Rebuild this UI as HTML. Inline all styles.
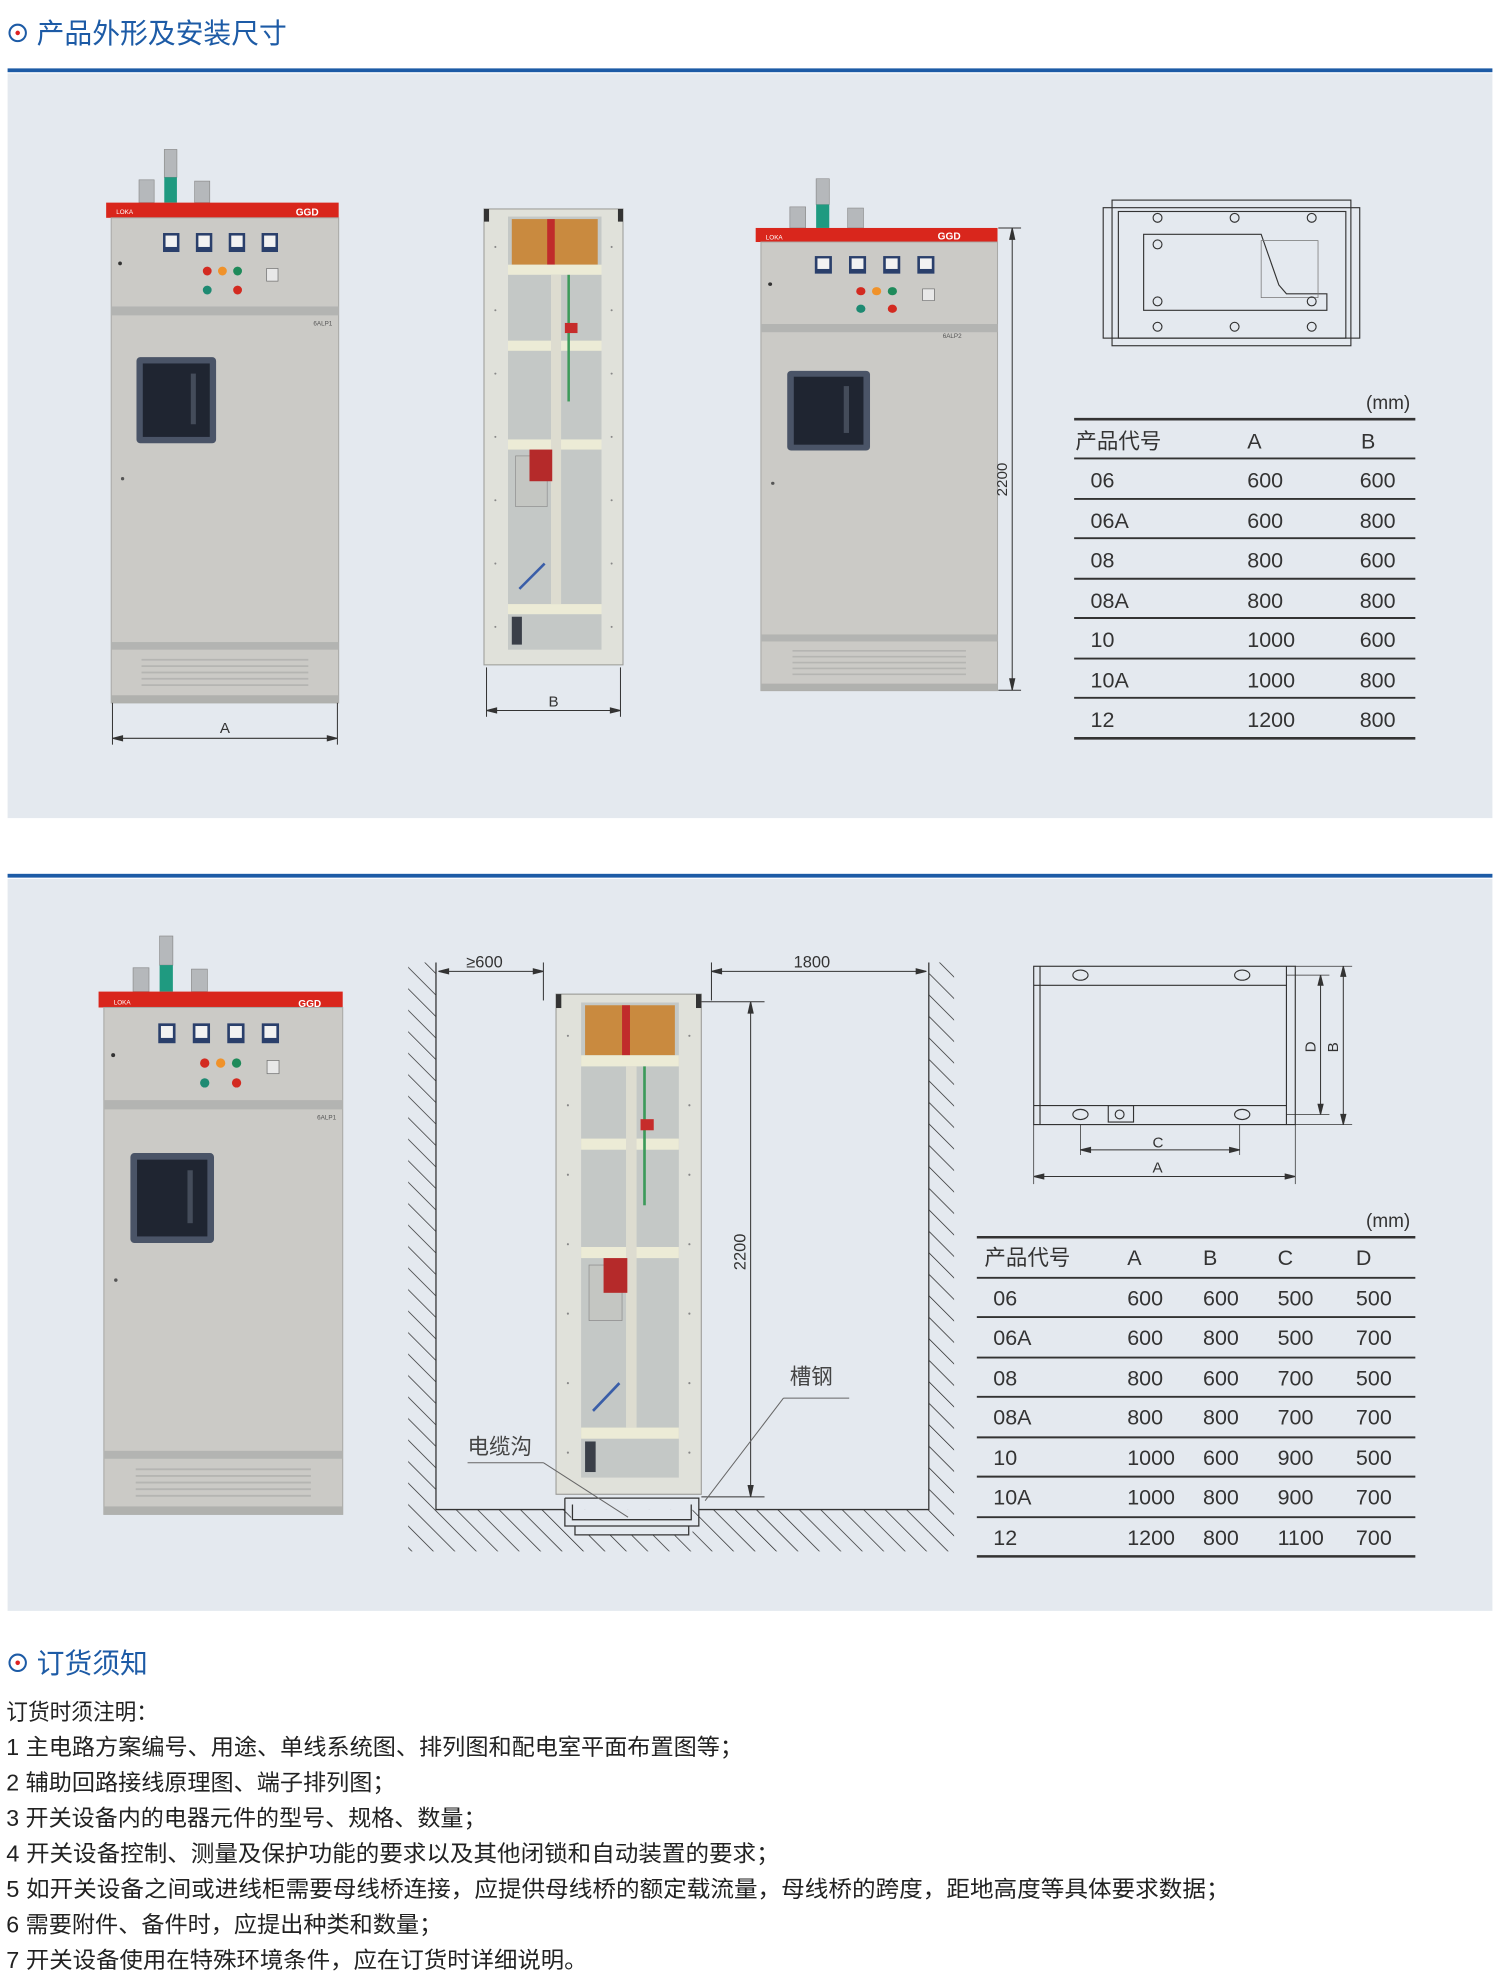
<!DOCTYPE html>
<html><head><meta charset="utf-8"><style>
html,body{margin:0;padding:0;background:#fff;}
svg{display:block;}
text{font-family:"Liberation Sans","Noto Sans CJK SC",sans-serif;}
</style></head><body>
<svg width="1500" height="1987" viewBox="0 0 1187 1569" preserveAspectRatio="none" xmlns="http://www.w3.org/2000/svg">
<defs>
<pattern id="hatch" width="12" height="12" patternUnits="userSpaceOnUse" patternTransform="rotate(-45)">
<line x1="0" y1="0" x2="0" y2="12" stroke="#222" stroke-width="1.1"/>
</pattern>
<g id="cab">
 <rect x="26" y="-18" width="12" height="18" fill="#b5b8bb" stroke="#888" stroke-width="0.5"/>
 <rect x="46" y="-42" width="10" height="22" fill="#b5b8bb" stroke="#888" stroke-width="0.5"/>
 <rect x="46" y="-20" width="10" height="20" fill="#1f9a80"/>
 <rect x="70" y="-17" width="12" height="17" fill="#b5b8bb" stroke="#888" stroke-width="0.5"/>
 <rect x="0" y="0" width="184" height="12" fill="#d9261c"/>
 <rect x="4" y="12" width="180" height="383" fill="#cbcac6" stroke="#a9a9a6" stroke-width="0.8"/>
 <rect x="4" y="82" width="180" height="7" fill="#b3b4b2"/>
 <rect x="45" y="24" width="13" height="15" fill="#2a3f6b"/><rect x="47" y="26" width="9" height="9" fill="#f2f2f2"/>
 <rect x="71" y="24" width="13" height="15" fill="#2a3f6b"/><rect x="73" y="26" width="9" height="9" fill="#f2f2f2"/>
 <rect x="97" y="24" width="13" height="15" fill="#2a3f6b"/><rect x="99" y="26" width="9" height="9" fill="#f2f2f2"/>
 <rect x="123" y="24" width="13" height="15" fill="#2a3f6b"/><rect x="125" y="26" width="9" height="9" fill="#f2f2f2"/>
 <circle cx="80" cy="54" r="3.5" fill="#d32a20"/><circle cx="92" cy="54" r="3.5" fill="#f0922a"/><circle cx="104" cy="54" r="3.5" fill="#1e8a5a"/>
 <circle cx="80" cy="69" r="3.5" fill="#1e8a72"/><circle cx="104" cy="69" r="3.5" fill="#d32a20"/>
 <rect x="127" y="52" width="9" height="10" fill="#e8e8e8" stroke="#777" stroke-width="0.6"/>
 <circle cx="11" cy="48" r="1.5" fill="#333"/><circle cx="13" cy="218" r="1.3" fill="#555"/>
 <rect x="24" y="122" width="63" height="68" rx="3" fill="#4a5467"/>
 <rect x="29" y="127" width="53" height="58" fill="#1f2531"/>
 <rect x="67" y="135" width="4" height="40" fill="#444c5a"/>
 <rect x="4" y="347" width="180" height="6" fill="#b3b4b2"/>
 <g stroke="#b5b5b2" stroke-width="1.4">
 <line x1="28" y1="361" x2="160" y2="361"/><line x1="28" y1="366" x2="160" y2="366"/><line x1="28" y1="371" x2="160" y2="371"/><line x1="28" y1="376" x2="160" y2="376"/><line x1="28" y1="381" x2="160" y2="381"/></g>
 <rect x="4" y="389" width="180" height="6" fill="#b0b1ae"/>
</g>
<g id="frame">
 <rect x="0" y="0" width="110" height="360" fill="#e0e1da" stroke="#9a9a96" stroke-width="0.8"/>
 <rect x="0" y="0" width="4" height="10" fill="#333"/><rect x="106" y="0" width="4" height="10" fill="#333"/>
 <rect x="19" y="6" width="74" height="342" fill="#c4c8c6"/>
 <rect x="22" y="8" width="68" height="36" fill="#c98a3f"/>
 <rect x="50" y="8" width="6" height="36" fill="#c02b2b"/>
 <rect x="19" y="44" width="74" height="8" fill="#ecebd6"/>
 <rect x="19" y="104" width="74" height="8" fill="#ecebd6"/>
 <rect x="19" y="182" width="74" height="8" fill="#ecebd6"/>
 <rect x="19" y="312" width="74" height="8" fill="#ecebd6"/>
 <rect x="53" y="52" width="8" height="260" fill="#dddcd0"/>
 <rect x="66" y="52" width="2" height="100" fill="#3c9a5a"/>
 <rect x="64" y="90" width="10" height="8" fill="#c62c2b"/>
 <rect x="25" y="195" width="25" height="40" fill="#c4c6c2" stroke="#888" stroke-width="0.5"/>
 <rect x="36" y="190" width="18" height="25" fill="#b52a2a"/>
 <line x1="28" y1="300" x2="48" y2="280" stroke="#3a5ea8" stroke-width="2"/>
 <rect x="22" y="322" width="8" height="22" fill="#3a3f48"/>
 <g fill="#888"><circle cx="9" cy="30" r="0.8"/><circle cx="9" cy="80" r="0.8"/><circle cx="9" cy="130" r="0.8"/><circle cx="9" cy="180" r="0.8"/><circle cx="9" cy="230" r="0.8"/><circle cx="9" cy="280" r="0.8"/><circle cx="9" cy="330" r="0.8"/>
 <circle cx="101" cy="30" r="0.8"/><circle cx="101" cy="80" r="0.8"/><circle cx="101" cy="130" r="0.8"/><circle cx="101" cy="180" r="0.8"/><circle cx="101" cy="230" r="0.8"/><circle cx="101" cy="280" r="0.8"/><circle cx="101" cy="330" r="0.8"/></g>
</g>
</defs>

<circle cx="14" cy="26" r="6.5" fill="none" stroke="#1d5ba6" stroke-width="1.6"/><circle cx="14" cy="26" r="1.8" fill="#d22"/>
<text x="29" y="34" font-size="22" fill="#1d5ba6">产品外形及安装尺寸</text>
<rect x="6" y="54" width="1175" height="3" fill="#1d5ba6"/>
<rect x="6" y="58" width="1175" height="588" fill="#e4e9ef"/>

<use href="#cab" transform="translate(84,160)"/>
<text x="234" y="170" font-size="8" fill="#fff" font-weight="bold">GGD</text>
<text x="92" y="169" font-size="5" fill="#fff">LOKA</text>
<text x="248" y="257" font-size="5" fill="#555">6ALP1</text>
<g stroke="#333" stroke-width="0.8" fill="#333">
<line x1="89" y1="555" x2="89" y2="588"/><line x1="267" y1="555" x2="267" y2="588"/>
<line x1="89" y1="583" x2="267" y2="583"/>
<path d="M89 583l8 -2v4z M267 583l-8 -2v4z"/></g>
<text x="174" y="579" font-size="12" fill="#333">A</text>

<use href="#frame" transform="translate(383,165)"/>
<g stroke="#333" stroke-width="0.8" fill="#333">
<line x1="385" y1="527" x2="385" y2="566"/><line x1="491" y1="527" x2="491" y2="566"/>
<line x1="385" y1="561" x2="491" y2="561"/>
<path d="M385 561l8 -2v4z M491 561l-8 -2v4z"/></g>
<text x="434" y="558" font-size="12" fill="#333">B</text>

<use href="#cab" transform="translate(598,180) scale(1.04,0.925)"/>
<text x="742" y="189" font-size="8" fill="#fff" font-weight="bold">GGD</text>
<text x="606" y="189" font-size="5" fill="#fff">LOKA</text>
<text x="746" y="267" font-size="5" fill="#555">6ALP2</text>
<g stroke="#333" stroke-width="0.8" fill="#333">
<line x1="790" y1="180" x2="808" y2="180"/><line x1="790" y1="545" x2="808" y2="545"/>
<line x1="801" y1="180" x2="801" y2="545"/>
<path d="M801 180l-2 9h4z M801 545l-2 -9h4z"/></g>
<text x="0" y="0" font-size="12" fill="#333" transform="translate(797,392) rotate(-90)">2200</text>

<g fill="none" stroke="#333" stroke-width="0.9">
<rect x="880" y="158" width="189" height="115"/>
<rect x="873" y="164" width="203" height="103"/>
<rect x="885" y="167" width="180" height="100"/>
<path d="M905 185 H998 L1005 205 L1012 225 L1018 232 H1050 V245 H905 Z"/>
<rect x="998" y="190" width="45" height="45" stroke="#777" stroke-width="0.6"/>
<circle cx="916" cy="172" r="3.5"/><circle cx="977" cy="172" r="3.5"/><circle cx="1038" cy="172" r="3.5"/>
<circle cx="916" cy="193" r="3.5"/><circle cx="916" cy="238" r="3.5"/><circle cx="1038" cy="238" r="3.5"/>
<circle cx="916" cy="258" r="3.5"/><circle cx="977" cy="258" r="3.5"/><circle cx="1038" cy="258" r="3.5"/>
</g>

<text x="1081" y="323" font-size="15" fill="#333">(mm)</text>
<g stroke="#333"><line x1="850" y1="331" x2="1120" y2="331" stroke-width="2"/>
<line x1="850" y1="362" x2="1120" y2="362" stroke-width="1.5"/><line x1="850" y1="394" x2="1120" y2="394" stroke-width="1.5"/>
<line x1="850" y1="425" x2="1120" y2="425" stroke-width="1.5"/><line x1="850" y1="457" x2="1120" y2="457" stroke-width="1.5"/>
<line x1="850" y1="488" x2="1120" y2="488" stroke-width="1.5"/><line x1="850" y1="520" x2="1120" y2="520" stroke-width="1.5"/>
<line x1="850" y1="551" x2="1120" y2="551" stroke-width="1.5"/><line x1="850" y1="583" x2="1120" y2="583" stroke-width="2"/></g>
<g font-size="17" fill="#333">
<text x="851" y="354">产品代号</text><text x="987" y="354">A</text><text x="1077" y="354">B</text>
<text x="863" y="385">06</text><text x="987" y="385">600</text><text x="1076" y="385">600</text>
<text x="863" y="417">06A</text><text x="987" y="417">600</text><text x="1076" y="417">800</text>
<text x="863" y="448">08</text><text x="987" y="448">800</text><text x="1076" y="448">600</text>
<text x="863" y="480">08A</text><text x="987" y="480">800</text><text x="1076" y="480">800</text>
<text x="863" y="511">10</text><text x="987" y="511">1000</text><text x="1076" y="511">600</text>
<text x="863" y="543">10A</text><text x="987" y="543">1000</text><text x="1076" y="543">800</text>
<text x="863" y="574">12</text><text x="987" y="574">1200</text><text x="1076" y="574">800</text>
</g>

<rect x="6" y="690" width="1175" height="3" fill="#1d5ba6"/>
<rect x="6" y="694" width="1175" height="578" fill="#e4e9ef"/>

<use href="#cab" transform="translate(78,783) scale(1.05,1.045)"/>
<text x="236" y="795" font-size="8" fill="#fff" font-weight="bold">GGD</text>
<text x="90" y="793" font-size="5" fill="#fff">LOKA</text>
<text x="251" y="884" font-size="5" fill="#555">6ALP1</text>

<rect x="323" y="760" width="22" height="465" fill="url(#hatch)"/>
<rect x="735" y="760" width="20" height="465" fill="url(#hatch)"/>
<rect x="345" y="1192" width="390" height="33" fill="url(#hatch)"/>
<rect x="452" y="1192" width="96" height="20" fill="#e4e9ef"/>
<g fill="none" stroke="#333" stroke-width="1">
<polyline points="345,760 345,1192 447,1192"/><polyline points="553,1192 735,1192 735,760"/>
<polyline points="447,1183 447,1205 553,1205 553,1183 447,1183"/>
<polyline points="453,1188 453,1200 547,1200 547,1188"/>
<polyline points="455,1205 455,1212 545,1212 545,1205"/>
</g>
<use href="#frame" transform="translate(440,785) scale(1.045,1.097)"/>
<g stroke="#333" stroke-width="0.8" fill="#333">
<line x1="347" y1="767" x2="430" y2="767"/><line x1="430" y1="760" x2="430" y2="790"/>
<path d="M347 767l8 -2v4z M430 767l-8 -2v4z"/>
<line x1="563" y1="767" x2="733" y2="767"/><line x1="563" y1="760" x2="563" y2="790"/>
<path d="M563 767l8 -2v4z M733 767l-8 -2v4z"/>
<line x1="555" y1="791" x2="605" y2="791"/><line x1="555" y1="1182" x2="605" y2="1182"/>
<line x1="594" y1="791" x2="594" y2="1182"/>
<path d="M594 791l-2 9h4z M594 1182l-2 -9h4z"/>
<line x1="672" y1="1104" x2="620" y2="1104" stroke="#666"/><line x1="620" y1="1104" x2="558" y2="1185" stroke="#666"/>
<line x1="370" y1="1155" x2="430" y2="1155" stroke="#666"/><line x1="430" y1="1155" x2="497" y2="1198" stroke="#666"/>
</g>
<text x="369" y="764" font-size="13" fill="#333">≥600</text>
<text x="628" y="764" font-size="13" fill="#333">1800</text>
<text x="0" y="0" font-size="13" fill="#333" transform="translate(590,1003) rotate(-90)">2200</text>
<text x="625" y="1093" font-size="17" fill="#444">槽钢</text>
<text x="370" y="1148" font-size="17" fill="#444">电缆沟</text>

<g fill="none" stroke="#333" stroke-width="0.9">
<rect x="818" y="763" width="207" height="125"/>
<line x1="818" y1="778" x2="1018" y2="778"/><line x1="818" y1="873" x2="1018" y2="873"/>
<line x1="1018" y1="763" x2="1018" y2="888"/><line x1="823" y1="763" x2="823" y2="888"/>
<ellipse cx="855" cy="770" rx="6" ry="4"/><ellipse cx="983" cy="770" rx="6" ry="4"/>
<ellipse cx="855" cy="880" rx="6" ry="4"/><ellipse cx="983" cy="880" rx="6" ry="4"/>
<rect x="877" y="873" width="20" height="13"/><circle cx="886" cy="880" r="3.5"/>
<line x1="855" y1="888" x2="855" y2="912" stroke-width="0.6"/><line x1="981" y1="888" x2="981" y2="912" stroke-width="0.6"/>
<line x1="818" y1="888" x2="818" y2="935" stroke-width="0.6"/><line x1="1025" y1="888" x2="1025" y2="935" stroke-width="0.6"/>
<line x1="1025" y1="763" x2="1070" y2="763" stroke-width="0.6"/><line x1="1025" y1="888" x2="1070" y2="888" stroke-width="0.6"/>
<line x1="1018" y1="770" x2="1052" y2="770" stroke-width="0.6"/><line x1="1018" y1="880" x2="1052" y2="880" stroke-width="0.6"/>
</g>
<g stroke="#333" stroke-width="0.8" fill="#333">
<line x1="1045" y1="770" x2="1045" y2="880"/><path d="M1045 770l-2 8h4z M1045 880l-2 -8h4z"/>
<line x1="1063" y1="763" x2="1063" y2="888"/><path d="M1063 763l-2 8h4z M1063 888l-2 -8h4z"/>
<line x1="855" y1="908" x2="981" y2="908"/><path d="M855 908l8 -2v4z M981 908l-8 -2v4z"/>
<line x1="818" y1="929" x2="1025" y2="929"/><path d="M818 929l8 -2v4z M1025 929l-8 -2v4z"/>
</g>
<text x="912" y="906" font-size="12" fill="#333">C</text>
<text x="912" y="926" font-size="12" fill="#333">A</text>
<text x="0" y="0" font-size="12" fill="#333" transform="translate(1041,831) rotate(-90)">D</text>
<text x="0" y="0" font-size="12" fill="#333" transform="translate(1059,831) rotate(-90)">B</text>

<text x="1081" y="969" font-size="15" fill="#333">(mm)</text>
<g stroke="#333"><line x1="773" y1="977" x2="1120" y2="977" stroke-width="2"/>
<line x1="773" y1="1009" x2="1120" y2="1009" stroke-width="1.5"/><line x1="773" y1="1040" x2="1120" y2="1040" stroke-width="1.5"/>
<line x1="773" y1="1072" x2="1120" y2="1072" stroke-width="1.5"/><line x1="773" y1="1103" x2="1120" y2="1103" stroke-width="1.5"/>
<line x1="773" y1="1135" x2="1120" y2="1135" stroke-width="1.5"/><line x1="773" y1="1166" x2="1120" y2="1166" stroke-width="1.5"/>
<line x1="773" y1="1198" x2="1120" y2="1198" stroke-width="1.5"/><line x1="773" y1="1229" x2="1120" y2="1229" stroke-width="2"/></g>
<g font-size="17" fill="#333">
<text x="779" y="999">产品代号</text><text x="892" y="999">A</text><text x="952" y="999">B</text><text x="1011" y="999">C</text><text x="1073" y="999">D</text>
<text x="786" y="1031">06</text><text x="892" y="1031">600</text><text x="952" y="1031">600</text><text x="1011" y="1031">500</text><text x="1073" y="1031">500</text>
<text x="786" y="1062">06A</text><text x="892" y="1062">600</text><text x="952" y="1062">800</text><text x="1011" y="1062">500</text><text x="1073" y="1062">700</text>
<text x="786" y="1094">08</text><text x="892" y="1094">800</text><text x="952" y="1094">600</text><text x="1011" y="1094">700</text><text x="1073" y="1094">500</text>
<text x="786" y="1125">08A</text><text x="892" y="1125">800</text><text x="952" y="1125">800</text><text x="1011" y="1125">700</text><text x="1073" y="1125">700</text>
<text x="786" y="1157">10</text><text x="892" y="1157">1000</text><text x="952" y="1157">600</text><text x="1011" y="1157">900</text><text x="1073" y="1157">500</text>
<text x="786" y="1188">10A</text><text x="892" y="1188">1000</text><text x="952" y="1188">800</text><text x="1011" y="1188">900</text><text x="1073" y="1188">700</text>
<text x="786" y="1220">12</text><text x="892" y="1220">1200</text><text x="952" y="1220">800</text><text x="1011" y="1220">1100</text><text x="1073" y="1220">700</text>
</g>

<circle cx="14" cy="1313" r="6.5" fill="none" stroke="#1d5ba6" stroke-width="1.6"/><circle cx="14" cy="1313" r="1.8" fill="#d22"/>
<text x="29" y="1321" font-size="22" fill="#1d5ba6">订货须知</text>
<g font-size="18" fill="#222">
<text x="5" y="1358" textLength="120" lengthAdjust="spacingAndGlyphs">订货时须注明：</text>
<text x="5" y="1386" textLength="583" lengthAdjust="spacingAndGlyphs">1 主电路方案编号、用途、单线系统图、排列图和配电室平面布置图等；</text>
<text x="5" y="1414" textLength="308" lengthAdjust="spacingAndGlyphs">2 辅助回路接线原理图、端子排列图；</text>
<text x="5" y="1442" textLength="380" lengthAdjust="spacingAndGlyphs">3 开关设备内的电器元件的型号、规格、数量；</text>
<text x="5" y="1470" textLength="612" lengthAdjust="spacingAndGlyphs">4 开关设备控制、测量及保护功能的要求以及其他闭锁和自动装置的要求；</text>
<text x="5" y="1498" textLength="968" lengthAdjust="spacingAndGlyphs">5 如开关设备之间或进线柜需要母线桥连接，应提供母线桥的额定载流量，母线桥的跨度，距地高度等具体要求数据；</text>
<text x="5" y="1526" textLength="345" lengthAdjust="spacingAndGlyphs">6 需要附件、备件时，应提出种类和数量；</text>
<text x="5" y="1554" textLength="460" lengthAdjust="spacingAndGlyphs">7 开关设备使用在特殊环境条件，应在订货时详细说明。</text>
</g>
</svg>
</body></html>
